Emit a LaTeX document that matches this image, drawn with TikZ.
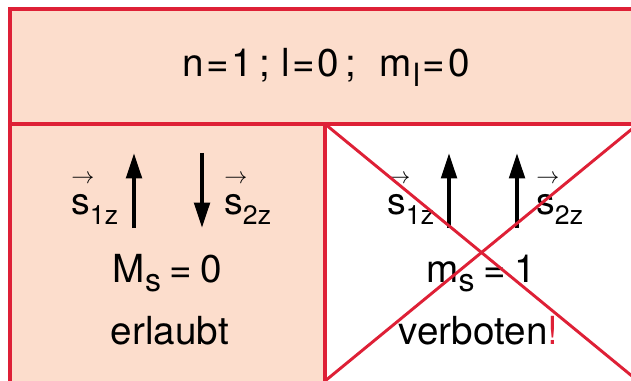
\documentclass[tikz,border=0pt]{standalone}
\usepackage{fontspec}
\setmainfont{TeX Gyre Heros}
\usetikzlibrary{arrows.meta}

\definecolor{xred}{RGB}{222,32,54}
\definecolor{peach}{RGB}{252,221,204}
% lowered index of nearly full size
\newcommand\dn[1]{\raisebox{-7pt}{\fontsize{24}{24}\selectfont #1}}
% equals sign with a bit of air
\newcommand\eq{\kern2pt=\kern2pt}
% spin component with a small arrow over the s
\newcommand\spinvec[1]{\rlap{\raisebox{23pt}{\fontsize{16}{16}\selectfont$\rightarrow$}}s\raisebox{-8pt}{\fontsize{20}{24}\selectfont #1}}

\begin{document}
\begin{tikzpicture}[x=0.75pt,y=-0.75pt,
  frame/.style={draw=xred,line width=3pt},
  cross/.style={draw=xred,line width=2.2pt},
  spin/.style={line width=3pt,-{Triangle[length=19pt,width=11.5pt]}},
  big/.style={inner sep=0pt,anchor=base,font=\fontsize{29}{34}\selectfont},
  lbl/.style={inner sep=0pt,anchor=base west,font=\fontsize{28}{32}\selectfont}]
\useasboundingbox (0,0) rectangle (631,381);

% fields
\fill[peach] (10,9.5) rectangle (645,124);
\fill[peach] (10,124) rectangle (325,390);
\draw[frame] (645,9.5) -- (10,9.5) -- (10,390);
\draw[frame] (10,124) -- (645,124);
\draw[frame] (325,124) -- (325,390);

% quantum numbers
\node[big] (qnum) at (326,77) {n\eq1\,; l\eq0\,;\hspace{0.6em}m\kern1pt\dn{l}\eq0};

% allowed: antiparallel
\coordinate (a1) at (134,228); \coordinate (a1t) at (134,153);
\coordinate (a2) at (202,153); \coordinate (a2t) at (202,228);
\draw[spin] (a1) -- (a1t);
\draw[spin] (a2) -- (a2t);
\node[lbl] (s1l) at (71,214) {\spinvec{1z}};
\node[lbl] (s2l) at (224,214) {\spinvec{2z}};
\node[big] (msl) at (167.5,282) {M\dn{s}\hspace{0.22em}=\hspace{0.22em}0};
\node[big] (okl) at (170,344) {erlaubt};

% forbidden: parallel
\coordinate (b1) at (449,228); \coordinate (b1t) at (449,153);
\coordinate (b2) at (517,228); \coordinate (b2t) at (517,153);
\draw[spin] (b1) -- (b1t);
\draw[spin] (b2) -- (b2t);
\node[lbl] (s1r) at (387,214) {\spinvec{1z}};
\node[lbl] (s2r) at (536,214) {\spinvec{2z}};
\node[big] (msr) at (481,282) {m\dn{s}\hspace{0.22em}=\hspace{0.22em}1};
\node[big] (nor) at (478.5,344) {verboten\textcolor{xred}{!}};

% cross out
\coordinate (c1) at (325,124); \coordinate (c2) at (638,381);
\coordinate (c3) at (325,381); \coordinate (c4) at (638,124);
\draw[cross] (c1) -- (c2);
\draw[cross] (c3) -- (c4);
\end{tikzpicture}
\end{document}
